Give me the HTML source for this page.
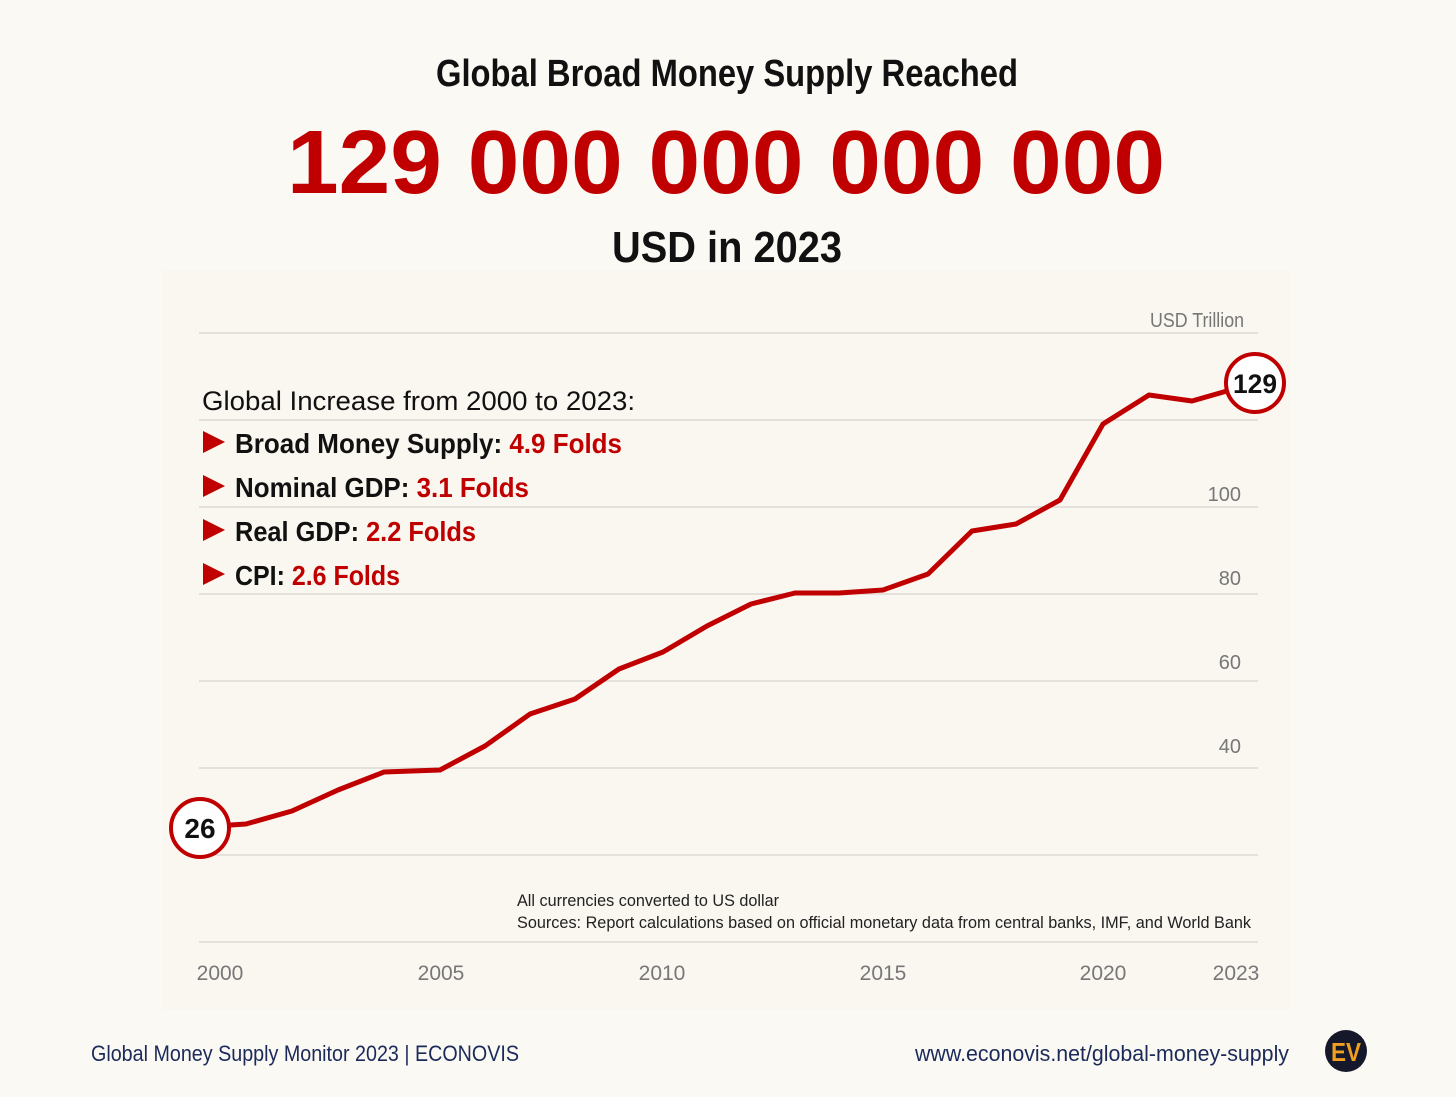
<!DOCTYPE html>
<html><head><meta charset="utf-8"><style>
html,body{margin:0;padding:0;background:#fbf9f4;}
svg{display:block;}
text{font-family:"Liberation Sans Narrow","Liberation Sans",sans-serif;}
</style></head><body>
<svg width="1456" height="1097" viewBox="0 0 1456 1097" xmlns="http://www.w3.org/2000/svg">
<rect width="1456" height="1097" fill="#fbf9f4"/>
<rect x="163" y="270" width="1128" height="740" fill="#faf7f1"/>
<text x="727" y="86" text-anchor="middle" font-size="38" font-weight="bold" fill="#111" textLength="582" lengthAdjust="spacingAndGlyphs">Global Broad Money Supply Reached</text>
<text x="726" y="193" text-anchor="middle" font-size="90" font-weight="bold" fill="#c00000" textLength="878" lengthAdjust="spacingAndGlyphs">129 000 000 000 000</text>
<text x="727" y="262" text-anchor="middle" font-size="44" font-weight="bold" fill="#111" textLength="230" lengthAdjust="spacingAndGlyphs">USD in 2023</text>
<g stroke="#d6d4cf" stroke-width="1.2">
<line x1="199" y1="333" x2="1258" y2="333"/><line x1="199" y1="420" x2="1258" y2="420"/>
<line x1="199" y1="507" x2="1258" y2="507"/><line x1="199" y1="594" x2="1258" y2="594"/>
<line x1="199" y1="681" x2="1258" y2="681"/><line x1="199" y1="768" x2="1258" y2="768"/>
<line x1="199" y1="855" x2="1258" y2="855"/><line x1="199" y1="942" x2="1258" y2="942"/>
</g>
<g font-size="20" fill="#777" text-anchor="end">
<text x="1244" y="327" textLength="94" lengthAdjust="spacingAndGlyphs">USD Trillion</text>
<text x="1241" y="501">100</text><text x="1241" y="585">80</text>
<text x="1241" y="669">60</text><text x="1241" y="753">40</text>
</g>
<g font-size="21" fill="#777" text-anchor="middle">
<text x="220" y="980">2000</text><text x="441" y="980">2005</text><text x="662" y="980">2010</text>
<text x="883" y="980">2015</text><text x="1103" y="980">2020</text><text x="1236" y="980">2023</text>
</g>
<polyline fill="none" stroke="#c00000" stroke-width="5" stroke-linejoin="round" points="200,827 246,824 292,811 338,790 384,772 440,770 485,746 530,714 575,699 619,669 663,652 707,626 751,604 795,593 839,593 883,590 928,574 972,531 1016,524 1060,500 1103,424 1149,395 1192,401 1255,383"/>
<circle cx="200" cy="828" r="29" fill="#fff" stroke="#c00000" stroke-width="4"/>
<text x="200" y="838" text-anchor="middle" font-size="28" font-weight="bold" fill="#111">26</text>
<circle cx="1255" cy="383" r="29" fill="#fff" stroke="#c00000" stroke-width="4"/>
<text x="1255" y="393" text-anchor="middle" font-size="27" font-weight="bold" fill="#111" textLength="44" lengthAdjust="spacingAndGlyphs">129</text>
<text x="202" y="410" font-size="27" fill="#111" textLength="433" lengthAdjust="spacingAndGlyphs">Global Increase from 2000 to 2023:</text>
<g font-size="28" font-weight="bold">
<polygon points="203,431 203,453 225,442" fill="#c00000"/>
<text x="235" y="453" fill="#111" textLength="387" lengthAdjust="spacingAndGlyphs">Broad Money Supply: <tspan fill="#c00000">4.9 Folds</tspan></text>
<polygon points="203,475 203,497 225,486" fill="#c00000"/>
<text x="235" y="497" fill="#111" textLength="294" lengthAdjust="spacingAndGlyphs">Nominal GDP: <tspan fill="#c00000">3.1 Folds</tspan></text>
<polygon points="203,519 203,541 225,530" fill="#c00000"/>
<text x="235" y="541" fill="#111" textLength="241" lengthAdjust="spacingAndGlyphs">Real GDP: <tspan fill="#c00000">2.2 Folds</tspan></text>
<polygon points="203,563 203,585 225,574" fill="#c00000"/>
<text x="235" y="585" fill="#111" textLength="165" lengthAdjust="spacingAndGlyphs">CPI: <tspan fill="#c00000">2.6 Folds</tspan></text>
</g>
<text x="517" y="906" font-size="17" fill="#222" textLength="262" lengthAdjust="spacingAndGlyphs">All currencies converted to US dollar</text>
<text x="517" y="928" font-size="17" fill="#222" textLength="734" lengthAdjust="spacingAndGlyphs">Sources: Report calculations based on official monetary data from central banks, IMF, and World Bank</text>
<text x="91" y="1061" font-size="22" fill="#1c2a5a" textLength="428" lengthAdjust="spacingAndGlyphs">Global Money Supply Monitor 2023 | ECONOVIS</text>
<text x="1289" y="1061" text-anchor="end" font-size="22" fill="#1c2a5a" textLength="374" lengthAdjust="spacingAndGlyphs">www.econovis.net/global-money-supply</text>
<circle cx="1346" cy="1051" r="21" fill="#14182a"/>
<text x="1346" y="1061" text-anchor="middle" font-size="26" font-weight="bold" fill="#f0a020" textLength="30" lengthAdjust="spacingAndGlyphs">EV</text>
</svg>
</body></html>
